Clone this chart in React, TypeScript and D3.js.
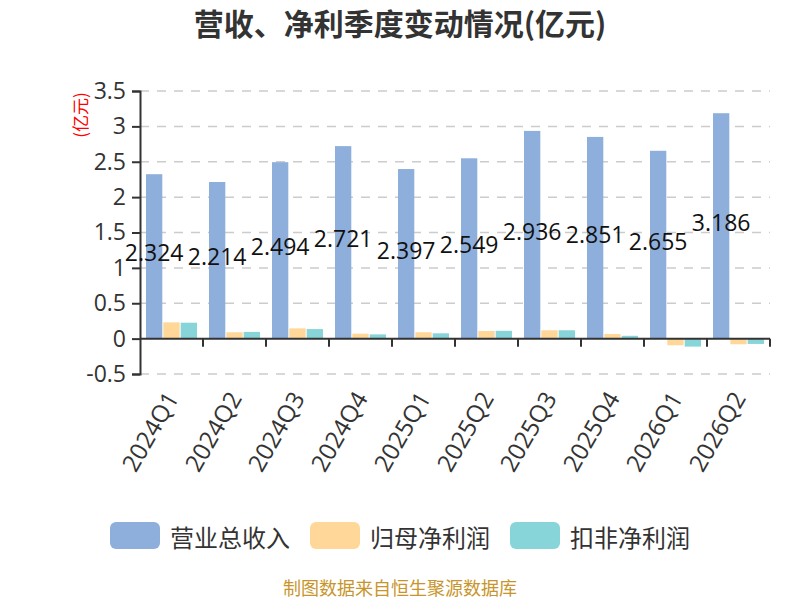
import { useEffect, useRef } from 'react'
import * as d3 from 'd3'

const quarters = ['2024Q1', '2024Q2', '2024Q3', '2024Q4', '2025Q1', '2025Q2', '2025Q3', '2025Q4', '2026Q1', '2026Q2']
const revenue = [2.324, 2.214, 2.494, 2.721, 2.397, 2.549, 2.936, 2.851, 2.655, 3.186]
const parentProfit = [0.23, 0.09, 0.145, 0.07, 0.09, 0.108, 0.118, 0.066, -0.094, -0.08]
const deductedProfit = [0.225, 0.095, 0.135, 0.06, 0.075, 0.11, 0.118, 0.04, -0.113, -0.075]
const yTicks = [-0.5, 0, 0.5, 1, 1.5, 2, 2.5, 3, 3.5]
const seriesNames = ['营业总收入', '归母净利润', '扣非净利润']
const seriesColors = ['#8eafdb', '#ffd899', '#87d5d8']

const W = 800
const H = 600
const NUM_FONT = '"Open Sans", "Noto Sans CJK SC", sans-serif'
const CJK_FONT = '"Noto Sans CJK SC", sans-serif'

export default function App() {
  const svgRef = useRef<SVGSVGElement>(null)

  useEffect(() => {
    const svg = svgRef.current
    if (!svg) return
    const sel = d3.select(svg)
    sel.selectAll('*').remove()

    const margin = { top: 91, right: 30, bottom: 226, left: 140 }
    const iw = W - margin.left - margin.right
    const y = d3.scaleLinear().domain([-0.5, 3.5]).range([374, 91])
    const x = d3.scaleBand<string>().domain(quarters).range([margin.left, margin.left + iw]).padding(0)
    const bw = x.bandwidth()
    const inner = d3.scaleBand<number>().domain([0, 1, 2]).range([6, bw - 6]).paddingInner(0.06)

    sel.append('rect').attr('width', W).attr('height', H).attr('fill', '#fff')

    // 제목
    sel.append('text')
      .attr('x', 400).attr('y', 35).attr('text-anchor', 'middle')
      .attr('font-family', CJK_FONT).attr('font-size', 30).attr('font-weight', 'bold')
      .attr('fill', '#333').text('营收、净利季度变动情况(亿元)')

    // 그리드
    yTicks.filter(t => t !== 0).forEach(t => {
      sel.append('line')
        .attr('x1', margin.left).attr('x2', margin.left + iw)
        .attr('y1', y(t)).attr('y2', y(t))
        .attr('stroke', '#ccc').attr('stroke-width', 1.5).attr('stroke-dasharray', '9,8')
    })

    // 막대
    const allSeries = [revenue, parentProfit, deductedProfit]
    allSeries.forEach((vals, si) => {
      sel.append('g').selectAll('rect').data(vals).join('rect')
        .attr('x', (_, i) => (x(quarters[i]) ?? 0) + (inner(si) ?? 0))
        .attr('width', inner.bandwidth())
        .attr('y', d => y(Math.max(0, d)))
        .attr('height', d => Math.abs(y(d) - y(0)))
        .attr('fill', seriesColors[si])
    })

    // y축
    const yAxis = sel.append('g').attr('transform', `translate(${margin.left},0)`)
      .call(d3.axisLeft(y).tickValues(yTicks).tickSize(8).tickPadding(6).tickFormat(d => `${d}`))
    yAxis.select('.domain').attr('stroke', '#333').attr('stroke-width', 2)
    yAxis.selectAll('.tick line').attr('stroke', '#333').attr('stroke-width', 2)
    yAxis.selectAll('text').attr('fill', '#333').attr('font-size', 23).attr('font-family', NUM_FONT)

    // x축
    const xAxis = sel.append('g').attr('transform', `translate(0,${y(0)})`)
    xAxis.append('line')
      .attr('x1', margin.left).attr('x2', margin.left + iw)
      .attr('stroke', '#333').attr('stroke-width', 2)
    quarters.forEach((q, i) => {
      const bx = (x(q) ?? 0) + bw
      xAxis.append('line').attr('x1', bx).attr('x2', bx).attr('y1', 0).attr('y2', 8)
        .attr('stroke', '#333').attr('stroke-width', 2)
      const cx = (x(q) ?? 0) + bw / 2
      sel.append('text')
        .attr('transform', `translate(${cx + 8},398) rotate(-60)`)
        .attr('text-anchor', 'end')
        .attr('font-family', NUM_FONT).attr('font-size', 24).attr('fill', '#333')
        .text(quarters[i])
    })

    // y축 단위
    sel.append('text')
      .attr('transform', 'translate(79,115) rotate(-90)')
      .attr('text-anchor', 'middle').attr('dominant-baseline', 'central')
      .attr('font-family', CJK_FONT).attr('font-size', 17).attr('fill', '#f00')
      .text('(亿元)')

    // 값 라벨
    revenue.forEach((v, i) => {
      const cx = (x(quarters[i]) ?? 0) + (inner(0) ?? 0) + inner.bandwidth() / 2
      sel.append('text')
        .attr('x', cx).attr('y', (y(v) + y(0)) / 2 - 4)
        .attr('text-anchor', 'middle').attr('dominant-baseline', 'central')
        .attr('font-family', NUM_FONT).attr('font-size', 23).attr('fill', '#111')
        .text(v.toFixed(3))
    })

    // 범례
    const legendX = [110, 310, 510]
    seriesNames.forEach((name, i) => {
      sel.append('rect').attr('x', legendX[i]).attr('y', 522).attr('width', 50).attr('height', 27)
        .attr('rx', 6).attr('fill', seriesColors[i])
      sel.append('text').attr('x', legendX[i] + 60).attr('y', 536)
        .attr('dominant-baseline', 'central')
        .attr('font-family', CJK_FONT).attr('font-size', 24).attr('fill', '#333')
        .text(name)
    })

    // 출처
    sel.append('text')
      .attr('x', 400).attr('y', 587).attr('text-anchor', 'middle').attr('dominant-baseline', 'central')
      .attr('font-family', CJK_FONT).attr('font-size', 18).attr('fill', '#c8952c')
      .text('制图数据来自恒生聚源数据库')
  }, [])

  return (
    <svg
      ref={svgRef}
      width={W}
      height={H}
      style={{ position: 'absolute', left: 0, top: 0, display: 'block' }}
    />
  )
}
